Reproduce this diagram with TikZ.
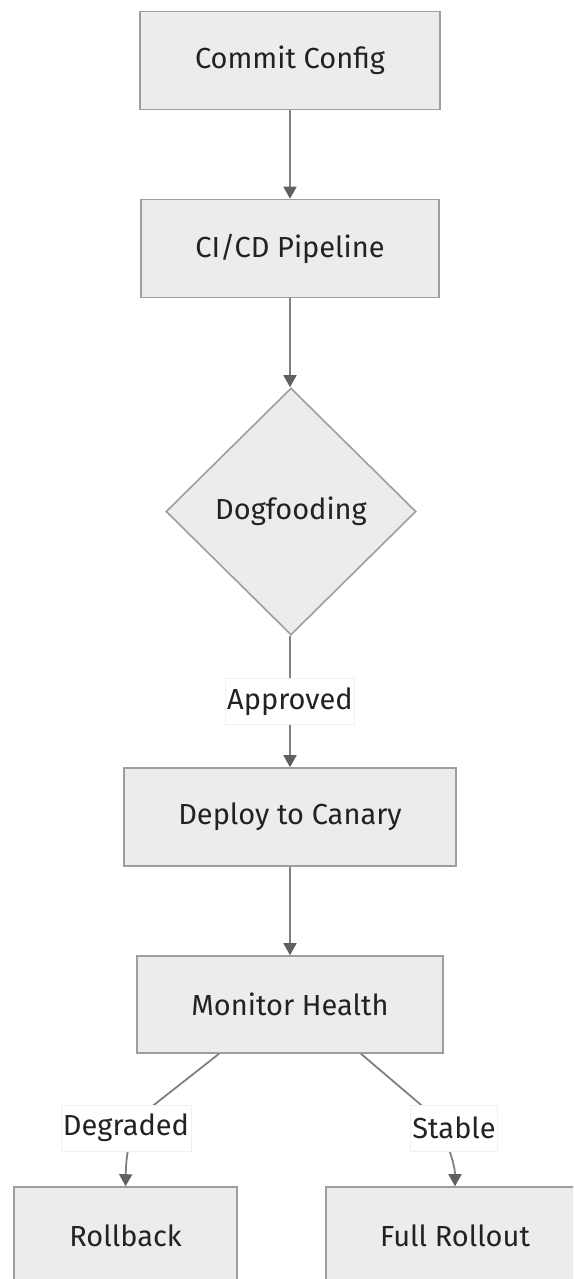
\documentclass[tikz,border=0pt]{standalone}
\usepackage{fontspec}
\setmainfont{Fira Sans}
\usetikzlibrary{shapes.geometric,arrows.meta}
\definecolor{boxfill}{HTML}{ECECEC}
\definecolor{boxline}{HTML}{9E9E9E}
\definecolor{edgeline}{HTML}{808080}
\definecolor{tipcol}{HTML}{606060}
\definecolor{txt}{HTML}{222222}
\tikzset{
  stepbox/.style={draw=boxline, line width=1.6pt, fill=boxfill, text=txt,
    font=\fontsize{29}{34}\selectfont, inner sep=0pt, minimum height=98pt},
  decision/.style={diamond, aspect=1, draw=boxline, line width=1.6pt, fill=boxfill,
    text=txt, font=\fontsize{29}{34}\selectfont, inner sep=0pt,
    minimum width=250pt, minimum height=247pt},
  edgelabel/.style={fill=white, draw=black!6, line width=0.6pt, text=txt,
    font=\fontsize{29}{34}\selectfont, inner xsep=2pt, inner ysep=0pt,
    minimum height=46pt},
  flow/.style={draw=edgeline, line width=1.8pt,
    -{Triangle[width=13pt,length=12pt,fill=tipcol,color=tipcol]}},
}
\begin{document}
\begin{tikzpicture}[x=1pt, y=-1pt]
\clip (0,0) rectangle (573,1279);
\fill[white] (0,0) rectangle (573,1279);

% main column
\node[stepbox, minimum width=300pt] (commit) at (290,60.5) {Commit Config};
\node[stepbox, minimum width=298pt] (cicd) at (290,248.5) {CI/CD Pipeline};
\node[decision] (dog) at (291,511.5) {Dogfooding};
\node[stepbox, minimum width=332pt] (canary) at (290,817) {Deploy to Canary};
\node[stepbox, minimum width=306pt, minimum height=97pt] (mon) at (290,1004.5) {Monitor Health};

% outcomes
\node[stepbox, minimum width=223pt] (rollback) at (125.5,1236) {Rollback};
\node[stepbox, minimum width=258pt] (full) at (455,1236) {Full Rollout};

% straight connectors
\draw[flow] (commit.south) -- (commit.south |- cicd.north);
\draw[flow] (cicd.south) -- (cicd.south |- dog.north);
\draw[flow] (dog.south -| canary.north) -- node[edgelabel] (appr) {Approved} (canary.north);
\draw[flow] (canary.south) -- (mon.north);

% branching connectors
\coordinate (degbend) at (150,1108);
\coordinate (stabend) at (420,1104);
\draw[flow] ([xshift=-71pt]mon.south) -- (degbend)
  .. controls (128,1125) and (126,1160) .. (rollback.north);
\draw[flow] ([xshift=71pt]mon.south) -- (stabend)
  .. controls (440,1121) and (455,1160) .. (full.north);
\node[edgelabel] (deg) at (126,1128) {Degraded};
\node[edgelabel] (sta) at (454,1128) {Stable};
\end{tikzpicture}
\end{document}
